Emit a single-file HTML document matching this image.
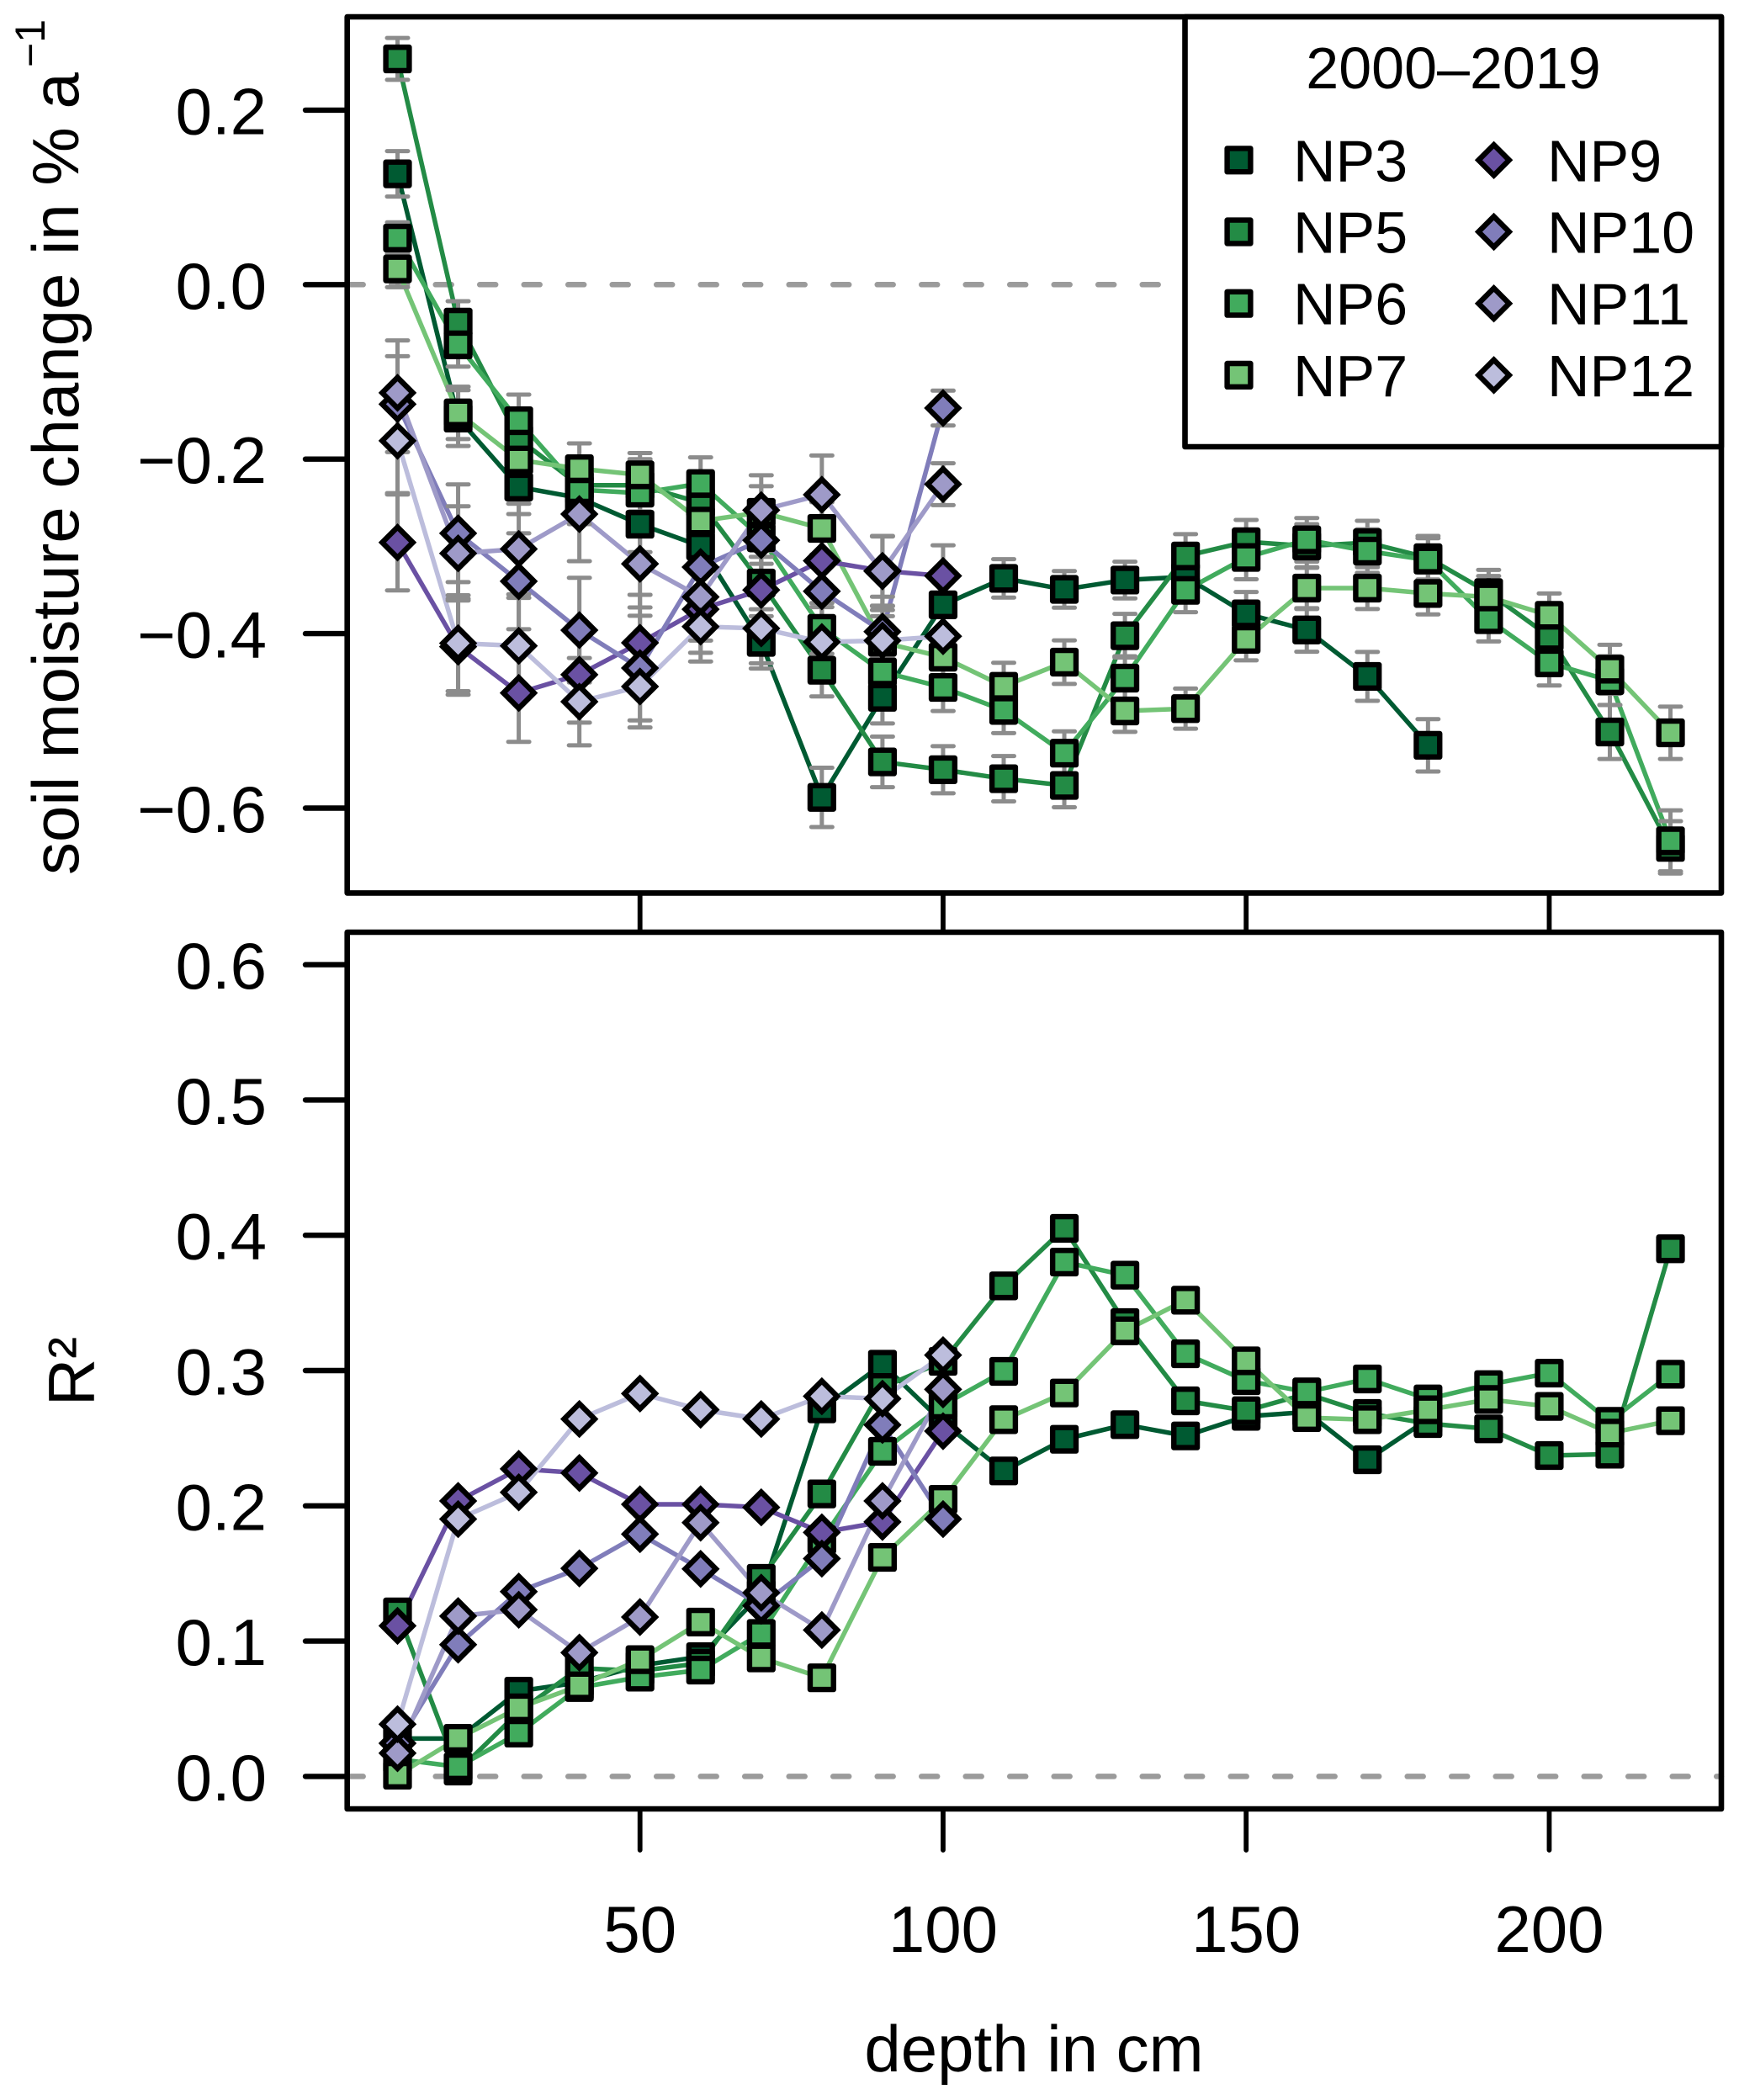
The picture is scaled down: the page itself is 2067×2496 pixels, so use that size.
<!DOCTYPE html>
<html lang="en">
<head>
<meta charset="utf-8">
<title>Soil moisture change and R² by depth</title>
<style>
html,body{margin:0;padding:0;background:#fff;width:2067px;height:2496px;overflow:hidden}
svg{display:block}
text{font-family:"Liberation Sans",Arial,sans-serif;fill:#000}
</style>
</head>
<body>
<svg id="chart" xmlns="http://www.w3.org/2000/svg" width="2067" height="2496" viewBox="0 0 2067 2496">
  <rect x="0" y="0" width="2067" height="2496" fill="#fff"/>
  <g id="plots"></g>
  <g id="axes"></g>
  <g id="legend"></g>
  <text transform="translate(93,1040) rotate(-90)" font-size="78">soil moisture change in % a</text>
  <text transform="translate(53,80) rotate(-90)" font-size="50">−1</text>
  <text transform="translate(112,1630) rotate(-90)" font-size="78" text-anchor="middle">R²</text>
  <text x="1229" y="2462" font-size="78" text-anchor="middle">depth in cm</text>
</svg>
<script>
// ---------- data ----------
const depths = [10,20,30,40,50,60,70,80,90,100,110,120,130,140,150,160,170,180,190,200,210,220];
const seriesNames = ['NP3','NP5','NP6','NP7','NP9','NP10','NP11','NP12'];

const trendNP3  = [0.127,-0.153,-0.232,-0.2445,-0.2746,-0.2997,-0.41,-0.5877,-0.473,-0.367,-0.3367,-0.3493,-0.3386,-0.335,-0.3773,-0.3958,-0.449,-0.528];
const trendNP5  = [0.2587,-0.043,-0.177,-0.23,-0.23,-0.25,-0.342,-0.442,-0.547,-0.556,-0.5663,-0.574,-0.4024,-0.311,-0.2947,-0.2996,-0.2957,-0.313,-0.353,-0.4032,-0.5127,-0.645];
const trendNP6  = [0.0534,-0.069,-0.156,-0.235,-0.239,-0.228,-0.29,-0.394,-0.4438,-0.4617,-0.488,-0.537,-0.451,-0.3504,-0.3127,-0.2925,-0.3054,-0.3157,-0.384,-0.4335,-0.4539,-0.6375];
const trendNP7  = [0.018,-0.147,-0.201,-0.211,-0.218,-0.271,-0.261,-0.2794,-0.41,-0.427,-0.4604,-0.4327,-0.4886,-0.486,-0.4066,-0.3478,-0.3478,-0.354,-0.358,-0.379,-0.4408,-0.5137];
const trendNP9  = [-0.2955,-0.415,-0.468,-0.447,-0.4105,-0.372,-0.35,-0.3165,-0.328,-0.3338];
const trendNP10 = [-0.137,-0.285,-0.34,-0.396,-0.4395,-0.3237,-0.293,-0.3515,-0.3977,-0.1415];
const trendNP11 = [-0.124,-0.308,-0.303,-0.263,-0.32,-0.358,-0.2585,-0.2408,-0.3286,-0.2287];
const trendNP12 = [-0.179,-0.411,-0.414,-0.478,-0.4606,-0.392,-0.394,-0.4096,-0.408,-0.403];

const errNP3  = [0.026,0.032,0.031,0.03,0.032,0.03,0.03,0.034,0.03,0.03,0.022,0.021,0.021,0.022,0.025,0.025,0.028,0.03];
const errNP5  = [0.024,0.024,0.03,0.03,0.03,0.03,0.03,0.03,0.029,0.027,0.026,0.025,0.025,0.025,0.025,0.025,0.025,0.025,0.026,0.027,0.031,0.03];
const errNP6  = [0.018,0.025,0.03,0.03,0.03,0.03,0.03,0.029,0.029,0.027,0.026,0.025,0.025,0.025,0.025,0.025,0.025,0.025,0.025,0.026,0.028,0.035];
const errNP7  = [0.021,0.03,0.05,0.029,0.025,0.03,0.03,0.03,0.03,0.03,0.027,0.025,0.024,0.023,0.024,0.024,0.024,0.024,0.024,0.025,0.028,0.03];
const errNP9  = [0.055,0.055,0.056,0.055,0.055,0.05,0.045,0.04,0.04,0.035];
const errNP10 = [0.055,0.056,0.055,0.06,0.06,0.05,0.045,0.04,0.04,0.02];
const errNP11 = [0.06,0.054,0.052,0.054,0.05,0.05,0.04,0.045,0.04,0.024];
const errNP12 = [0.06,0.055,0.055,0.05,0.047,0.04,0.04,0.04,0.035,0.03];

const r2NP3  = [0.028,0.028,0.063,0.0695,0.082,0.0885,0.135,0.2717,0.3047,0.2616,0.2258,0.2492,0.26,0.2517,0.2662,0.2693,0.2341,0.264];
const r2NP5  = [0.1216,0.004,0.0476,0.08,0.078,0.0837,0.1464,0.2088,0.2875,0.3068,0.3626,0.4051,0.3355,0.2776,0.2703,0.2828,0.2683,0.2608,0.2569,0.2372,0.2382,0.39];
const r2NP6  = [0.0128,0.0071,0.032,0.0657,0.0734,0.0786,0.1057,0.175,0.2403,0.2745,0.2994,0.3802,0.3705,0.3124,0.2925,0.2842,0.2938,0.279,0.2896,0.2981,0.2625,0.2973];
const r2NP7  = [0.0009,0.0282,0.0507,0.067,0.0863,0.1141,0.0876,0.0729,0.1619,0.2048,0.2637,0.2834,0.3294,0.352,0.3072,0.2652,0.2637,0.271,0.2786,0.2735,0.2538,0.2629];
const r2NP9  = [0.1113,0.2036,0.2273,0.2243,0.2011,0.2011,0.1989,0.1804,0.1881,0.2552];
const r2NP10 = [0.0245,0.0974,0.1366,0.1538,0.1791,0.1534,0.1262,0.161,0.2598,0.1902];
const r2NP11 = [0.0172,0.1185,0.1232,0.0915,0.1178,0.1876,0.1358,0.1082,0.2036,0.2861];
const r2NP12 = [0.0386,0.1902,0.21,0.2642,0.283,0.2711,0.2642,0.281,0.2792,0.3114];

const xTicks = [50,100,150,200];
const yTicksTop = [0.2,0,-0.2,-0.4,-0.6];
const yTicksBottom = [0,0.1,0.2,0.3,0.4,0.5,0.6];

const trends = [trendNP3,trendNP5,trendNP6,trendNP7,trendNP9,trendNP10,trendNP11,trendNP12];
const errors = [errNP3,errNP5,errNP6,errNP7,errNP9,errNP10,errNP11,errNP12];
const r2s = [r2NP3,r2NP5,r2NP6,r2NP7,r2NP9,r2NP10,r2NP11,r2NP12];
const colors = ['#005a32','#238b45','#41ab5d','#74c476','#6a51a3','#807dba','#9e9ac8','#bcbddc'];

// ---------- scales ----------
const FRAME = {left:412.7, right:2046, top1:20, bottom1:1061.4, top2:1108, bottom2:2150};
function xScale(d){ return 760.7 + (d - 50) * 7.205; }
function yTop(v){ return 338.3 - v * 1037; }
function yBottom(v){ return 2111.4 - v * 1608; }

// ---------- helpers ----------
const NS = 'http://www.w3.org/2000/svg';
function mk(parent, tag, attrs, text){
  const el = document.createElementNS(NS, tag);
  for (const k in attrs) el.setAttribute(k, attrs[k]);
  if (text !== undefined) el.textContent = text;
  parent.appendChild(el);
  return el;
}
function isSquare(i){ return i < 4; }
function drawMarker(parent, i, cx, cy){
  let el;
  if (isSquare(i)) {
    el = mk(parent, 'rect', {x:cx-13.9, y:cy-13.9, width:27.8, height:27.8, fill:colors[i], stroke:'#000', 'stroke-width':6.4, 'stroke-linejoin':'round'});
  } else {
    const r = 18.2;
    el = mk(parent, 'polygon', {points:[[cx,cy-r],[cx+r,cy],[cx,cy+r],[cx-r,cy]].map(p=>p.join(',')).join(' '), fill:colors[i], stroke:'#000', 'stroke-width':6.4, 'stroke-linejoin':'miter', 'stroke-miterlimit':4});
  }
  return el;
}
function pathFor(values, yFn){
  return values.map((v,j)=>(j?'L':'M')+xScale(depths[j]).toFixed(2)+' '+yFn(v).toFixed(2)).join(' ');
}

const plots = document.getElementById('plots');
const axes = document.getElementById('axes');
const legend = document.getElementById('legend');

// ---------- zero lines ----------
[yTop(0), yBottom(0)].forEach(function(y, idx){
  const el = mk(plots, 'line', {x1:FRAME.left, y1:y, x2:FRAME.right, y2:y, stroke:'#9b9b9b', 'stroke-width':6.5, 'stroke-linecap':'round', 'stroke-dasharray':'19 33.5'});
  
  
});

// ---------- series lines ----------
trends.forEach(function(vals, i){
  const el = mk(plots, 'path', {d:pathFor(vals, yTop), fill:'none', stroke:colors[i], 'stroke-width':5.5, 'stroke-linejoin':'round'});
  
  
});
r2s.forEach(function(vals, i){
  const el = mk(plots, 'path', {d:pathFor(vals, yBottom), fill:'none', stroke:colors[i], 'stroke-width':5.5, 'stroke-linejoin':'round'});
  
  
});

// ---------- error bars ----------
trends.forEach(function(vals, i){
  vals.forEach(function(v, j){
    const x = xScale(depths[j]);
    const hi = yTop(v + errors[i][j]);
    const lo = yTop(v - errors[i][j]);
    const d = 'M'+x+' '+hi+' L'+x+' '+lo+' M'+(x-12.5)+' '+hi+' L'+(x+12.5)+' '+hi+' M'+(x-12.5)+' '+lo+' L'+(x+12.5)+' '+lo;
    const el = mk(plots, 'path', {d:d, fill:'none', stroke:'#8c8c8c', 'stroke-width':5, 'stroke-linecap':'round'});
    
    
  });
});

// ---------- markers ----------
trends.forEach(function(vals, i){
  vals.forEach(function(v, j){
    const el = drawMarker(plots, i, xScale(depths[j]), yTop(v));
    
    
  });
});
r2s.forEach(function(vals, i){
  vals.forEach(function(v, j){
    const el = drawMarker(plots, i, xScale(depths[j]), yBottom(v));
    
    
  });
});

// ---------- axes ----------
function fmt(v){
  const s = Math.abs(v).toFixed(1);
  return (v < 0 ? '\u2212' : '') + s;
}
yTicksTop.forEach(function(v){
  const y = yTop(v);
  const t = mk(axes, 'line', {x1:363, y1:y, x2:FRAME.left, y2:y, stroke:'#000', 'stroke-width':6.4, 'stroke-linecap':'round'});
  
  
  const l = mk(axes, 'text', {x:317, y:y+28.5, 'font-size':78, 'text-anchor':'end'}, fmt(v));
  
  
});
yTicksBottom.forEach(function(v){
  const y = yBottom(v);
  const t = mk(axes, 'line', {x1:363, y1:y, x2:FRAME.left, y2:y, stroke:'#000', 'stroke-width':6.4, 'stroke-linecap':'round'});
  
  
  const l = mk(axes, 'text', {x:317, y:y+28.5, 'font-size':78, 'text-anchor':'end'}, fmt(v));
  
  
});
xTicks.forEach(function(d){
  const x = xScale(d);
  const t1 = mk(axes, 'line', {x1:x, y1:FRAME.bottom1, x2:x, y2:FRAME.top2, stroke:'#000', 'stroke-width':5.8});
  
  
  const t2 = mk(axes, 'line', {x1:x, y1:FRAME.bottom2, x2:x, y2:2199, stroke:'#000', 'stroke-width':5.8, 'stroke-linecap':'round'});
  
  
  const l = mk(axes, 'text', {x:x, y:2320, 'font-size':78, 'text-anchor':'middle'}, String(d));
  
  
});
const frameTop = mk(axes, 'rect', {x:FRAME.left, y:FRAME.top1, width:FRAME.right-FRAME.left, height:FRAME.bottom1-FRAME.top1, fill:'none', stroke:'#000', 'stroke-width':6.6, 'stroke-linejoin':'round'});


const frameBottom = mk(axes, 'rect', {x:FRAME.left, y:FRAME.top2, width:FRAME.right-FRAME.left, height:FRAME.bottom2-FRAME.top2, fill:'none', stroke:'#000', 'stroke-width':6.6, 'stroke-linejoin':'round'});



// ---------- legend ----------
const box = mk(legend, 'rect', {x:1408.5, y:20, width:FRAME.right-1408.5, height:511, fill:'#fff', stroke:'#000', 'stroke-width':6.6, 'stroke-linejoin':'round'});


const legendTitle = mk(legend, 'text', {x:1727.5, y:105, 'font-size':70, 'text-anchor':'middle'}, '2000\u20132019');


seriesNames.forEach(function(name, i){
  const col = i < 4 ? 0 : 1;
  const row = i % 4;
  const my = 190.3 + row * 85.2;
  const m = drawMarker(legend, i, col ? 1775.6 : 1472.5, my);
  
  
  const t = mk(legend, 'text', {x:col ? 1839 : 1537, y:my+25, 'font-size':70}, name);
  
  
});
</script>
</body>
</html>
